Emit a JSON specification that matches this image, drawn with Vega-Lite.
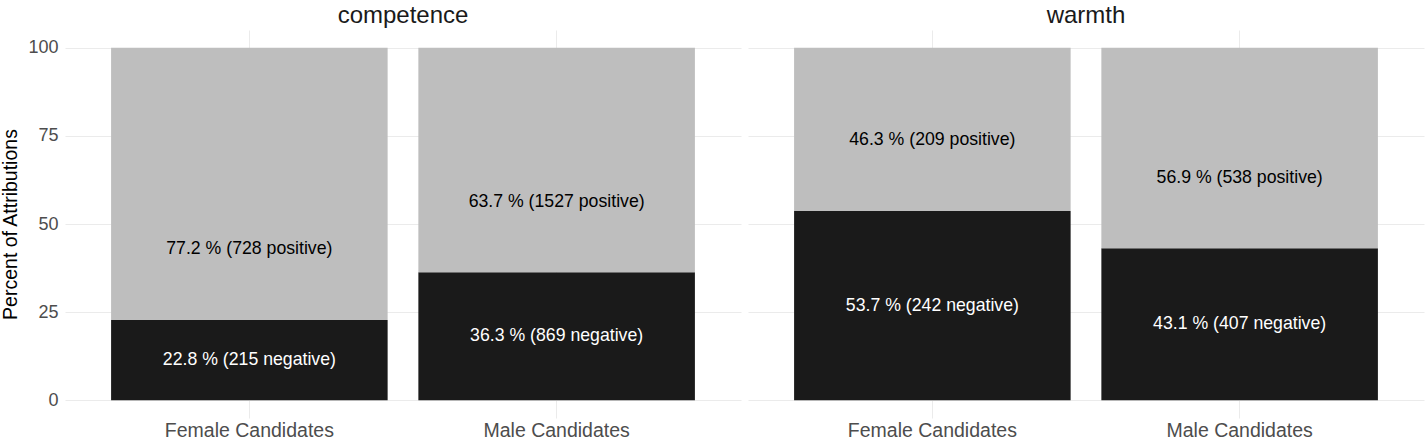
{
  "$schema": "https://vega.github.io/schema/vega-lite/v6.json",
  "background": "white",
  "padding": {"left": 0, "top": 4, "right": 3, "bottom": 0},
  "data": {
    "values": [
      {"dimension": "competence", "gender": "Female Candidates", "valence": "negative", "pct": 22.8, "count": 215},
      {"dimension": "competence", "gender": "Female Candidates", "valence": "positive", "pct": 77.2, "count": 728},
      {"dimension": "competence", "gender": "Male Candidates", "valence": "negative", "pct": 36.3, "count": 869},
      {"dimension": "competence", "gender": "Male Candidates", "valence": "positive", "pct": 63.7, "count": 1527},
      {"dimension": "warmth", "gender": "Female Candidates", "valence": "negative", "pct": 53.7, "count": 242},
      {"dimension": "warmth", "gender": "Female Candidates", "valence": "positive", "pct": 46.3, "count": 209},
      {"dimension": "warmth", "gender": "Male Candidates", "valence": "negative", "pct": 43.1, "count": 407},
      {"dimension": "warmth", "gender": "Male Candidates", "valence": "positive", "pct": 56.9, "count": 538}
    ]
  },
  "transform": [
    {"calculate": "format(datum.pct, '.1f') + ' % (' + datum.count + ' ' + datum.valence + ')'", "as": "label"},
    {"calculate": "datum.valence === 'negative' ? datum.pct / 2 : (100 - datum.pct) + 20", "as": "labelY"}
  ],
  "facet": {
    "column": {
      "field": "dimension",
      "type": "nominal",
      "title": null,
      "header": {"labelFontSize": 24, "labelFont": "Liberation Sans", "labelColor": "#1a1a1a", "labelPadding": 2}
    }
  },
  "spacing": 7,
  "spec": {
    "width": 676,
    "height": 388,
    "layer": [
      {
        "mark": {"type": "bar"},
        "encoding": {
          "x": {
            "field": "gender", "type": "nominal", "title": null,
            "scale": {"paddingInner": 0.1, "paddingOuter": 0.15},
            "axis": {"labelAngle": 0, "labelFontSize": 19.5, "labelFont": "Liberation Sans", "labelColor": "#4d4d4d", "ticks": false, "domain": false, "labelPadding": 3, "grid": true, "gridColor": "#ebebeb", "gridWidth": 1}
          },
          "y": {
            "field": "pct", "type": "quantitative", "stack": "zero",
            "title": "Percent of Attributions",
            "scale": {"domain": [-5, 105], "nice": false, "zero": false},
            "axis": {"values": [0, 25, 50, 75, 100], "ticks": false, "domain": false, "labelFontSize": 18, "labelFont": "Liberation Sans", "labelColor": "#4d4d4d", "labelPadding": 7, "titleFontSize": 19.5, "titleFont": "Liberation Sans", "titleFontWeight": "normal", "titleColor": "#000000", "titlePadding": 7, "grid": true, "gridColor": "#ebebeb", "gridWidth": 1}
          },
          "color": {
            "field": "valence", "type": "nominal", "legend": null,
            "scale": {"domain": ["negative", "positive"], "range": ["#1a1a1a", "#bebebe"]}
          },
          "order": {"field": "valence", "sort": "ascending"}
        }
      },
      {
        "mark": {"type": "text", "fontSize": 17.7, "font": "Liberation Sans", "baseline": "middle"},
        "encoding": {
          "x": {"field": "gender", "type": "nominal"},
          "y": {"field": "labelY", "type": "quantitative"},
          "text": {"field": "label"},
          "color": {
            "condition": {"test": "datum.valence === 'negative'", "value": "#ffffff"},
            "value": "#000000"
          }
        }
      }
    ]
  },
  "config": {"view": {"stroke": null}}
}
